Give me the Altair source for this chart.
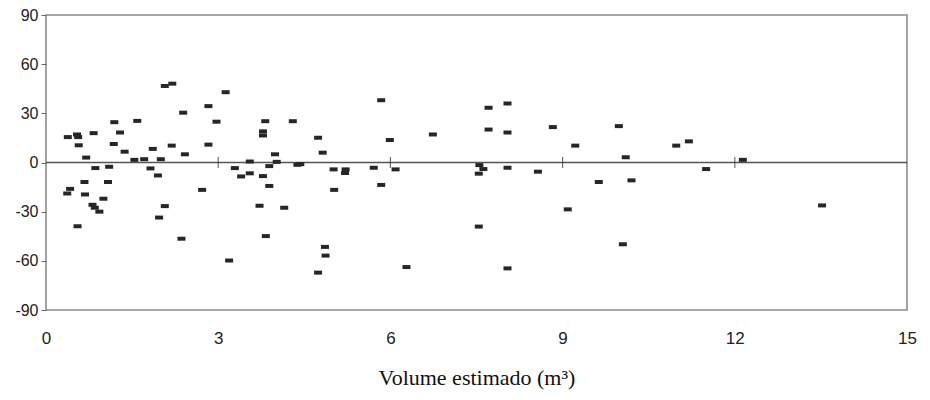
import altair as alt
import pandas as pd

vol = [0.38, 0.37, 0.42, 0.54, 0.56, 0.57, 0.55, 0.70, 0.67, 0.68,
       0.83, 0.86, 0.81, 0.85, 0.93, 1.00, 1.08, 1.10, 1.18, 1.19,
       1.29, 1.37, 1.54, 1.59, 1.71, 1.82, 1.86, 1.95, 1.97, 2.00,
       2.07, 2.20, 2.07, 2.19, 2.39, 2.42, 2.36, 2.72, 2.83, 2.83,
       2.97, 3.13, 3.19, 3.29, 3.40, 3.55, 3.55, 3.78, 3.78, 3.82,
       3.78, 3.89, 3.89, 3.72, 3.83, 3.99, 4.02, 4.15, 4.30, 4.38,
       4.43, 4.74, 4.82, 4.86, 4.87, 4.74, 5.01, 5.02, 5.22, 5.21,
       5.71, 5.84, 5.84, 5.99, 6.09, 6.28, 6.74, 7.54, 7.55, 7.62,
       7.54, 7.71, 7.71, 8.04, 8.04, 8.04, 8.04, 8.57, 8.83, 9.22,
       9.09, 9.63, 9.98, 10.10, 10.05, 10.20, 10.98, 11.20, 11.50, 12.14,
       13.52]
resid = [15.5, -18.9, -16.1, 17.1, 15.5, 10.5, -38.9, 3.0, -11.9, -19.5,
         17.9, -3.4, -25.8, -27.6, -30.0, -22.1, -11.9, -2.6, 11.3, 24.6,
         18.3, 6.6, 1.6, 25.4, 2.0, -3.6, 8.3, -7.9, -33.6, 2.0,
         46.7, 48.1, -26.6, 10.3, 30.4, 5.0, -46.5, -16.7, 34.4, 10.9,
         24.9, 42.9, -59.8, -3.4, -8.5, 0.6, -6.6, 16.5, 19.0, 25.2,
         -8.3, -2.2, -14.3, -26.4, -44.9, 5.0, 0.4, -27.6, 25.2, -1.4,
         -1.0, 15.1, 6.0, -51.5, -56.8, -67.2, -4.2, -16.7, -4.2, -6.4,
         -3.2, 38.0, -13.7, 13.7, -4.2, -63.8, 17.1, -39.1, -1.6, -4.0,
         -6.8, 33.4, 20.1, 36.0, 18.3, -3.2, -64.6, -5.6, 21.6, 10.3,
         -28.6, -11.9, 22.2, 3.2, -49.9, -10.9, 10.3, 12.9, -4.0, 1.6,
         -26.2]

x_ticks = [0, 3, 6, 9, 12, 15]
y_ticks = [-90, -60, -30, 0, 30, 60, 90]
zero_ticks = [3, 6, 9, 12]

df = pd.DataFrame({"vol": vol, "resid": resid})
zt = pd.DataFrame({"vol": zero_ticks, "resid": [0] * len(zero_ticks)})

xscale = alt.Scale(domain=[0, 15], nice=False, zero=False)
yscale = alt.Scale(domain=[-90, 90], nice=False)

xaxis = alt.Axis(values=x_ticks, title="Volume estimado (m³)", grid=False,
                 domain=False, ticks=False, labelPadding=20, labelFlush=False,
                 labelExpr="'' + datum.value",
                 labelFont="Liberation Sans Narrow, Liberation Sans", labelFontSize=17,
                 labelColor="#222", titleFont="Liberation Serif", titleFontSize=22,
                 titleFontWeight="normal", titleColor="#111", titlePadding=21)
yaxis = alt.Axis(values=y_ticks, title=None, grid=False, domain=False,
                 tickSize=5, tickColor="#666", labelPadding=3, labelFlush=False,
                 labelExpr="'' + datum.value",
                 labelFont="Liberation Sans", labelFontSize=16, labelColor="#222")

zero_line = alt.Chart(pd.DataFrame({"resid": [0]})).mark_rule(
    color="#555", strokeWidth=1.3).encode(
    y=alt.Y("resid:Q", scale=yscale, axis=yaxis))

zero_marks = alt.Chart(zt).mark_tick(
    orient="vertical", size=11, thickness=1.2, color="#333").encode(
    x=alt.X("vol:Q", scale=xscale, axis=xaxis),
    y=alt.Y("resid:Q", scale=yscale))

points = alt.Chart(df).mark_point(
    shape="M-1,-0.5H1V0.5H-1Z", size=64, filled=True, opacity=1,
    color="#262626", strokeWidth=0).encode(
    x=alt.X("vol:Q", scale=xscale, axis=xaxis),
    y=alt.Y("resid:Q", scale=yscale, axis=yaxis))

chart = alt.layer(zero_line, zero_marks, points).properties(
    width=861, height=295,
    autosize=alt.AutoSizeParams(type="none"),
    padding={"left": 38, "top": 7, "right": 10, "bottom": 82},
    background="white",
).configure_view(stroke="#8c8c8c", strokeWidth=1.6)

chart.save("out.html", embed_options={"renderer": "svg", "actions": False})
